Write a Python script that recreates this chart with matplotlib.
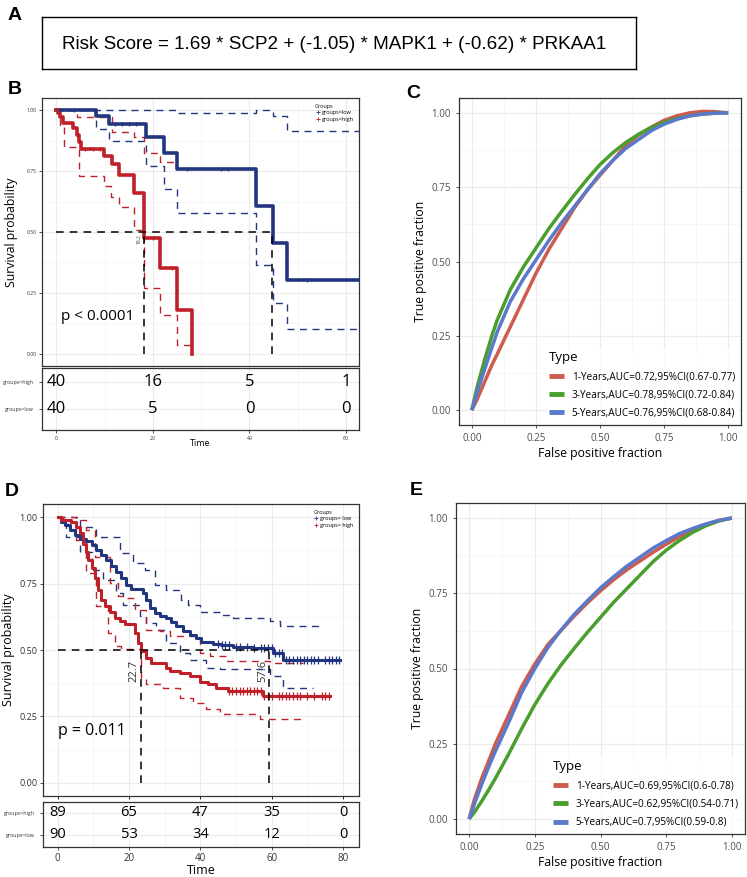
import numpy as np
import matplotlib
matplotlib.use('Agg')
import matplotlib.pyplot as plt
from matplotlib.lines import Line2D

W, H = 747, 877

# ---- data ----
formula = 'Risk Score = 1.69 * SCP2 + (-1.05) * MAPK1 + (-0.62) * PRKAA1'

# panel B (Kaplan-Meier, training set)
b_low_t = [0, 8.2, 10.8, 18.6, 22.3, 24.9, 41.4, 44.8, 47.7, 62.7]
b_low_s = [1.0, 0.977, 0.945, 0.888, 0.826, 0.757, 0.607, 0.456, 0.303, 0.303]
b_low_up_t = [0, 24.9, 41.4, 44.8, 47.7, 62.7]
b_low_up_s = [1.0, 0.988, 1.0, 0.975, 0.915, 0.915]
b_low_lo_t = [0, 8.2, 10.8, 18.6, 22.3, 24.9, 41.4, 44.8, 47.7, 62.7]
b_low_lo_s = [1.0, 0.922, 0.873, 0.770, 0.675, 0.578, 0.365, 0.21, 0.10, 0.10]
b_high_t = [0, 0.3, 0.8, 1.4, 3.4, 4.3, 4.7, 5.0, 9.8, 11.6, 12.9, 16.0, 18.2, 21.4, 24.9, 28.1]
b_high_s = [1.0, 0.99, 0.973, 0.948, 0.925, 0.897, 0.870, 0.840, 0.811, 0.781, 0.736, 0.661,
            0.474, 0.354, 0.180, 0.0]
b_high_up_t = [0, 4.3, 11.6, 16.0, 18.2, 21.4, 24.9]
b_high_up_s = [1.0, 0.973, 0.911, 0.89, 0.825, 0.788, 0.788]
b_high_lo_t = [0, 0.8, 1.5, 4.6, 9.8, 11.2, 12.9, 16.0, 18.2, 21.4, 24.9, 28.1]
b_high_lo_s = [1.0, 0.93, 0.85, 0.73, 0.69, 0.645, 0.604, 0.508, 0.272, 0.16, 0.037, 0.037]
b_low_cens = [0.6, 3.7, 12.2, 13.5, 15.0, 16.5, 27.0, 34.0, 35.5, 52.0]
b_high_cens = [6.0, 7.5, 9.0, 20.0, 24.0]
b_medians = [18.2, 44.6]
b_pval = 'p < 0.0001'
b_risk_times = [0, 20, 40, 60]
b_risk_high = [40, 16, 5, 1]
b_risk_low = [40, 5, 0, 0]

# panel D (Kaplan-Meier, validation set)
d_low_t = [0, 1.0, 2.0, 3.4, 4.8, 6.2, 8.0, 9.5, 10.9, 12.3, 13.7, 15.1, 16.5, 17.9, 19.3, 20.7,
           23.9, 24.9, 25.8, 27.2, 28.6, 30.5, 31.9, 33.3, 35.2, 37.0, 38.9, 40.3, 43.6, 45.9,
           49.2, 54.8, 60.4, 63.2, 79.1]
d_low_s = [1.0, 0.983, 0.970, 0.951, 0.933, 0.920, 0.911, 0.895, 0.876, 0.858, 0.839, 0.816,
           0.795, 0.770, 0.745, 0.729, 0.714, 0.689, 0.658, 0.639, 0.629, 0.620, 0.604, 0.589,
           0.571, 0.558, 0.546, 0.529, 0.524, 0.517, 0.512, 0.508, 0.489, 0.464, 0.464]
d_low_up_t = [0, 6.2, 10.9, 17.4, 21.2, 24.4, 27.2, 30.5, 34.7, 36.6, 39.9, 45.9, 49.2, 59.5,
              62.3, 73.5]
d_low_up_s = [1.0, 0.964, 0.926, 0.864, 0.826, 0.801, 0.745, 0.727, 0.689, 0.670, 0.645, 0.633,
              0.620, 0.608, 0.589, 0.589]
d_low_lo_t = [0, 1.0, 2.4, 6.2, 9.5, 12.7, 16.5, 18.3, 23.0, 24.9, 27.7, 30.5, 34.2, 37.0,
              41.7, 45.5, 59.5, 63.2, 71.7]
d_low_lo_s = [1.0, 0.976, 0.926, 0.870, 0.801, 0.764, 0.714, 0.670, 0.627, 0.602, 0.577,
              0.527, 0.489, 0.464, 0.433, 0.427, 0.402, 0.358, 0.358]
d_high_t = [0, 1.0, 3.8, 5.2, 6.2, 7.1, 7.9, 8.5, 9.5, 10.4, 11.3, 12.3, 13.2, 14.6, 16.0, 17.4,
            18.8, 21.6, 22.6, 23.5, 24.9, 26.3, 30.5, 31.4, 34.2, 37.0, 39.9, 42.2, 44.5, 47.8,
            57.6, 76.3]
d_high_s = [1.0, 0.991, 0.983, 0.964, 0.939, 0.901, 0.870, 0.839, 0.808, 0.770, 0.727, 0.689,
            0.664, 0.645, 0.620, 0.608, 0.599, 0.564, 0.527, 0.498, 0.471, 0.452, 0.433, 0.421,
            0.412, 0.402, 0.380, 0.371, 0.358, 0.346, 0.325, 0.325]
d_high_up_t = [0, 5.2, 8.0, 10.4, 14.6, 16.9, 19.3, 21.6, 24.9, 28.6, 31.4, 39.9, 42.7, 47.3,
               59.5, 68.9]
d_high_up_s = [1.0, 0.989, 0.951, 0.851, 0.752, 0.702, 0.695, 0.652, 0.577, 0.571, 0.552, 0.489,
               0.477, 0.458, 0.452, 0.452]
d_high_lo_t = [0, 1.5, 5.2, 8.0, 10.9, 14.1, 16.0, 17.9, 23.5, 24.9, 29.6, 34.2, 38.0, 41.7,
               45.5, 56.7, 68.9]
d_high_lo_s = [1.0, 0.976, 0.914, 0.789, 0.664, 0.564, 0.514, 0.504, 0.396, 0.371, 0.358, 0.321,
               0.302, 0.277, 0.258, 0.240, 0.240]
d_low_cens = [45, 46, 47, 48, 50, 51, 53, 55, 57, 58, 59, 60, 61, 62, 63, 64, 65, 66, 67, 68,
              69, 70, 71, 72, 73, 75, 76, 77, 78, 79]
d_high_cens = [48, 49, 50, 51, 52, 53, 54, 55, 56, 57, 58, 59, 60, 62, 63, 64, 65, 66, 67, 68,
               70, 72, 74, 75, 76]
d_medians = [23.3, 59.4]
d_median_text = ['22.7', '57.6']
d_pval = 'p = 0.011'
d_risk_times = [0, 20, 40, 60, 80]
d_risk_high = [89, 65, 47, 35, 0]
d_risk_low = [90, 53, 34, 12, 0]

# panels C and E (time-dependent ROC), read at these false positive fractions
fpr = [0, 0.02, 0.05, 0.08, 0.1, 0.15, 0.2, 0.25, 0.3, 0.35, 0.4, 0.45, 0.5, 0.55, 0.6, 0.65,
       0.7, 0.75, 0.8, 0.85, 0.9, 0.95, 1.0]
c_tpr_1y = [0, 0.035, 0.095, 0.155, 0.19, 0.28, 0.37, 0.46, 0.54, 0.61, 0.68, 0.74, 0.79, 0.84,
            0.89, 0.925, 0.952, 0.975, 0.99, 1.0, 1.005, 1.004, 1.0]
c_tpr_3y = [0, 0.075, 0.17, 0.255, 0.305, 0.405, 0.48, 0.545, 0.61, 0.668, 0.724, 0.777, 0.826,
            0.866, 0.9, 0.928, 0.951, 0.968, 0.981, 0.99, 0.996, 0.999, 1.0]
c_tpr_5y = [0, 0.058, 0.137, 0.215, 0.265, 0.365, 0.44, 0.505, 0.57, 0.63, 0.685, 0.74, 0.795,
            0.84, 0.88, 0.91, 0.94, 0.962, 0.978, 0.99, 0.996, 0.999, 1.0]
c_labels = ['1-Years,AUC=0.72,95%CI(0.67-0.77)', '3-Years,AUC=0.78,95%CI(0.72-0.84)',
            '5-Years,AUC=0.76,95%CI(0.68-0.84)']
e_tpr_1y = [0, 0.065, 0.14, 0.205, 0.25, 0.345, 0.44, 0.515, 0.58, 0.627, 0.674, 0.718, 0.758,
            0.795, 0.828, 0.857, 0.886, 0.913, 0.938, 0.96, 0.978, 0.992, 1.0]
e_tpr_3y = [0, 0.022, 0.062, 0.105, 0.135, 0.215, 0.30, 0.38, 0.45, 0.512, 0.567, 0.62, 0.67,
            0.72, 0.765, 0.81, 0.855, 0.893, 0.925, 0.952, 0.974, 0.99, 1.0]
e_tpr_5y = [0, 0.05, 0.12, 0.185, 0.225, 0.32, 0.42, 0.50, 0.57, 0.628, 0.68, 0.725, 0.768,
            0.805, 0.84, 0.87, 0.9, 0.925, 0.948, 0.965, 0.98, 0.992, 1.0]
e_labels = ['1-Years,AUC=0.69,95%CI(0.6-0.78)', '3-Years,AUC=0.62,95%CI(0.54-0.71)',
            '5-Years,AUC=0.7,95%CI(0.59-0.8)']

# ---- style ----
BLUE = '#22357f'
RED = '#c0202a'
ROC_COLS = ['#cd5b4e', '#4a9e2c', '#5a79cb']
GRID = '#ebebeb'
FONT = 'Open Sans'
plt.rcParams['font.family'] = [FONT, 'DejaVu Sans']


def rect(x0, y0, x1, y1):
    return [x0 / W, 1 - y1 / H, (x1 - x0) / W, (y1 - y0) / H]


def bw_axes(ax):
    ax.set_facecolor('white')
    for sp in ax.spines.values():
        sp.set_color('#333333')
        sp.set_linewidth(0.9)
    ax.grid(True, which='major', color=GRID, lw=0.8, zorder=0)
    ax.grid(True, which='minor', color='#f3f3f3', lw=0.5, zorder=0)
    ax.set_axisbelow(True)


def step_at(ts, ss, x):
    i = np.searchsorted(ts, x, side='right') - 1
    return np.array(ss)[i]


def km_panel(ax, curves, cens, medians, xlim, tick_fs, lw_main, lw_ci, ms):
    bw_axes(ax)
    for (t, s, up_t, up_s, lo_t, lo_s, col) in curves:
        ax.step(up_t, up_s, where='post', color=col, lw=lw_ci, ls=(0, (5, 4)), zorder=3)
        ax.step(lo_t, lo_s, where='post', color=col, lw=lw_ci, ls=(0, (5, 4)), zorder=3)
        ax.step(t, s, where='post', color=col, lw=lw_main, zorder=4)
    for (ct, t, s, col) in cens:
        ax.plot(ct, step_at(t, s, ct), ls='none', marker='|', ms=ms, mew=0.9,
                color=col, zorder=5)
    ax.plot([0, medians[-1]], [0.5, 0.5], color='black', ls=(0, (5, 4)), lw=1.1, zorder=6)
    for m in medians:
        ax.plot([m, m], [0, 0.5], color='black', ls=(0, (5, 4)), lw=1.1, zorder=6)
    ax.set_xlim(*xlim)
    ax.set_ylim(-0.05, 1.05)
    ax.set_yticks([0, 0.25, 0.5, 0.75, 1.0])
    ax.set_yticklabels(['0.00', '0.25', '0.50', '0.75', '1.00'])
    ax.set_yticks([0.125, 0.375, 0.625, 0.875], minor=True)
    ax.tick_params(axis='y', which='minor', length=0)
    ax.tick_params(axis='y', labelsize=tick_fs, colors='#333333', length=2.5, width=0.6,
                   labelcolor='#333333', pad=1.5)


def risk_table(ax, times, high, low, xlim, xt, num_fs, lab_fs, xtick_fs, ylim):
    bw_axes(ax)
    for t, h, l in zip(times, high, low):
        ax.text(t, 1, str(h), ha='center', va='center', fontsize=num_fs, color='black')
        ax.text(t, 0, str(l), ha='center', va='center', fontsize=num_fs, color='black')
    ax.set_xlim(*xlim)
    ax.set_ylim(*ylim)
    ax.set_xticks(xt)
    ax.set_xticks([(a + b) / 2 for a, b in zip(xt[:-1], xt[1:])], minor=True)
    ax.set_yticks([0, 1])
    ax.set_yticklabels(['groups=low', 'groups=high'])
    ax.tick_params(axis='y', labelsize=lab_fs, length=2.5, width=0.6, colors='#333333')
    ax.tick_params(axis='x', labelsize=xtick_fs, length=2.5, width=0.6, colors='#333333',
                   pad=1.5)
    ax.tick_params(which='minor', length=0)


fig = plt.figure(figsize=(W / 100, H / 100), dpi=100)

# ---- A ----
axA = fig.add_axes(rect(42, 17, 636, 69))
axA.set_xticks([])
axA.set_yticks([])
for sp in axA.spines.values():
    sp.set_linewidth(1.0)
    sp.set_color('black')
axA.text(0.492, 0.47, formula, ha='center', va='center', fontsize=13.6,
         family='Liberation Sans', transform=axA.transAxes)

for lab, x, y in [('A', 8, 16), ('B', 8, 90), ('C', 406, 93), ('D', 5, 492), ('E', 410, 491)]:
    fig.text(x / W, 1 - y / H, lab, fontsize=14, fontweight='bold', family='Liberation Sans',
             va='center', ha='left')

# ---- B ----
axB = fig.add_axes(rect(42, 98, 359, 366))
km_panel(axB,
         [(b_low_t, b_low_s, b_low_up_t, b_low_up_s, b_low_lo_t, b_low_lo_s, BLUE),
          (b_high_t, b_high_s, b_high_up_t, b_high_up_s, b_high_lo_t, b_high_lo_s, RED)],
         [(b_low_cens, b_low_t, b_low_s, BLUE), (b_high_cens, b_high_t, b_high_s, RED)],
         b_medians, (-3.0, 62.7), 3.6, 2.6, 1.0, 3)
axB.set_xticks([0, 20, 40, 60])
axB.set_xticks([10, 30, 50], minor=True)
axB.tick_params(axis='x', which='both', length=0, labelbottom=False)
axB.set_ylabel('Survival probability', fontsize=8.8)
axB.yaxis.set_label_coords(-0.077, 0.5)
axB.text(1.0, 0.155, b_pval, fontsize=11, ha='left', va='center')
axB.text(17.2, 0.47, '18.2', fontsize=3.5, rotation=90, ha='center', va='center', color='#444444')
legB = axB.legend(handles=[Line2D([], [], color=BLUE, marker='+', ls='none', ms=3, mew=0.6),
                           Line2D([], [], color=RED, marker='+', ls='none', ms=3, mew=0.6)],
                  labels=['groups=low', 'groups=high'], title='Groups', loc='upper right',
                  fontsize=4, title_fontsize=4, frameon=False, handletextpad=0.2,
                  borderaxespad=0.6, labelspacing=0.3, handlelength=1.0)
legB._legend_box.align = 'left'

axBt = fig.add_axes(rect(42, 368, 359, 430))
risk_table(axBt, b_risk_times, b_risk_high, b_risk_low, (-3.0, 62.7), [0, 20, 40, 60],
           12, 3.8, 3.8, (-0.78, 1.52))
axBt.set_xlabel('Time', fontsize=6.5, labelpad=-1)

# ---- D ----
axD = fig.add_axes(rect(43, 504, 359, 796))
km_panel(axD,
         [(d_low_t, d_low_s, d_low_up_t, d_low_up_s, d_low_lo_t, d_low_lo_s, BLUE),
          (d_high_t, d_high_s, d_high_up_t, d_high_up_s, d_high_lo_t, d_high_lo_s, RED)],
         [(d_low_cens, d_low_t, d_low_s, BLUE), (d_high_cens, d_high_t, d_high_s, RED)],
         d_medians, (-4.1, 84.5), 6.5, 2.2, 1.0, 6)
axD.set_xticks([0, 20, 40, 60, 80])
axD.set_xticks([10, 30, 50, 70], minor=True)
axD.tick_params(axis='x', which='major', length=2.5, width=0.6, labelbottom=False)
axD.tick_params(axis='x', which='minor', length=0)
axD.set_ylabel('Survival probability', fontsize=9)
axD.yaxis.set_label_coords(-0.088, 0.5)
axD.text(0.0, 0.196, d_pval, fontsize=11.5, ha='left', va='center')
for m, txt in zip(d_medians, d_median_text):
    axD.text(m - 1.9, 0.42, txt, fontsize=8, rotation=90, ha='center', va='center',
             color='#333333')
legD = axD.legend(handles=[Line2D([], [], color=BLUE, marker='+', ls='none', ms=3, mew=0.6),
                           Line2D([], [], color=RED, marker='+', ls='none', ms=3, mew=0.6)],
                  labels=['groups= low', 'groups= high'], title='Groups', loc='upper right',
                  fontsize=4, title_fontsize=4, frameon=False, handletextpad=0.2,
                  borderaxespad=0.6, labelspacing=0.3, handlelength=1.0)
legD._legend_box.align = 'left'

axDt = fig.add_axes(rect(43, 802, 359, 847))
risk_table(axDt, d_risk_times, d_risk_high, d_risk_low, (-4.1, 84.5), [0, 20, 40, 60, 80],
           10.5, 3.8, 7, (-0.55, 1.5))
axDt.set_xlabel('Time', fontsize=9, labelpad=0)


# ---- C, E ----
def roc_panel(ax, curves, labels):
    bw_axes(ax)
    for tpr, col in zip(curves, ROC_COLS):
        ax.plot(fpr, tpr, color=col, lw=2.5, solid_capstyle='butt', solid_joinstyle='round',
                zorder=3)
    ax.set_xlim(-0.05, 1.05)
    ax.set_ylim(-0.05, 1.05)
    ticks = [0, 0.25, 0.5, 0.75, 1.0]
    tl = ['0.00', '0.25', '0.50', '0.75', '1.00']
    ax.set_xticks(ticks)
    ax.set_xticklabels(tl)
    ax.set_yticks(ticks)
    ax.set_yticklabels(tl)
    ax.set_xticks([0.125, 0.375, 0.625, 0.875], minor=True)
    ax.set_yticks([0.125, 0.375, 0.625, 0.875], minor=True)
    ax.tick_params(which='minor', length=0)
    ax.tick_params(which='major', labelsize=7, length=2.5, width=0.6, colors='#333333',
                   labelcolor='#4d4d4d')
    ax.set_xlabel('False positive fraction', fontsize=8.8, labelpad=2)
    ax.set_ylabel('True positive fraction', fontsize=8.8, labelpad=3)
    handles = [Line2D([], [], color=c, lw=3.5, solid_capstyle='butt') for c in ROC_COLS]
    leg = ax.legend(handles=handles, labels=labels, title='Type', loc='lower right',
                    bbox_to_anchor=(1.0, 0.0), fontsize=7.2, title_fontsize=9.5,
                    frameon=True, facecolor='white', edgecolor='none', fancybox=False,
                    handlelength=1.5, handletextpad=0.8, labelspacing=0.72, borderpad=0.3,
                    borderaxespad=0.3)
    leg._legend_box.align = 'left'


axC = fig.add_axes(rect(459, 98, 741, 425))
roc_panel(axC, [c_tpr_1y, c_tpr_3y, c_tpr_5y], c_labels)
axE = fig.add_axes(rect(456, 503, 745, 834))
roc_panel(axE, [e_tpr_1y, e_tpr_3y, e_tpr_5y], e_labels)

fig.savefig('out.png', dpi=100)
